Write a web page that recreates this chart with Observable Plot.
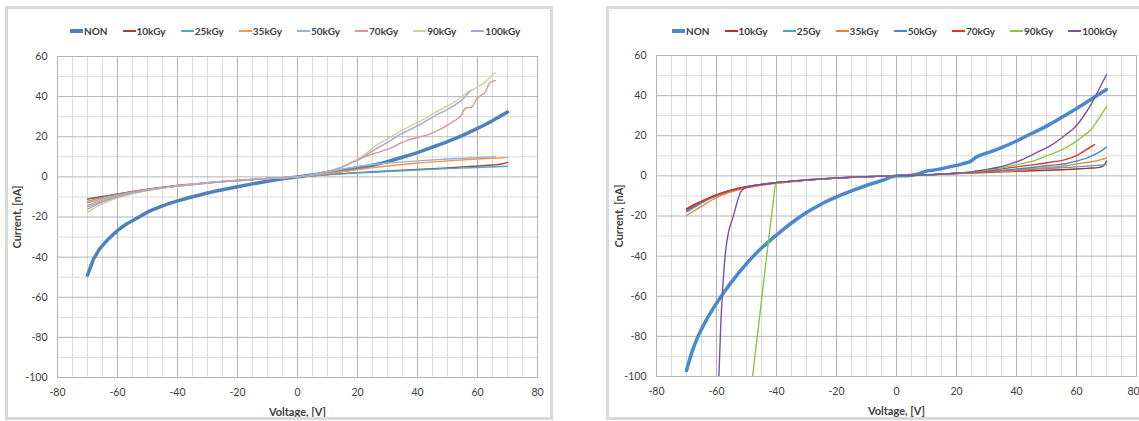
<!DOCTYPE html>
<html><head><meta charset="utf-8">
<script src="https://cdn.jsdelivr.net/npm/d3@7"></script>
<script src="https://cdn.jsdelivr.net/npm/@observablehq/plot@0.6"></script>
<style>
html,body{margin:0;padding:0;background:#fff;}
#wrap{position:relative;width:1139px;height:421px;overflow:hidden;font-family:Lato,"Open Sans",sans-serif;}
.box{position:absolute;border:3px solid #dadada;box-sizing:border-box;pointer-events:none;}
.chart{position:absolute;top:0;}
.legend{position:absolute;display:flex;gap:15px;align-items:center;height:14px;font-weight:bold;font-size:10px;color:#404040;white-space:nowrap;}
.item{display:flex;align-items:center;}
.sw{display:inline-block;width:13px;margin-right:1px;}
</style></head><body><div id="wrap"></div>
<script>
// ---------- axis ticks ----------
const xMajor = [-80, -60, -40, -20, 0, 20, 40, 60, 80];
const xMinor = [-75, -70, -65, -55, -50, -45, -35, -30, -25, -15, -10, -5, 5, 10, 15, 25, 30, 35, 45, 50, 55, 65, 70, 75];
const yMajor = [-100, -80, -60, -40, -20, 0, 20, 40, 60];
const yMinor = [-90, -70, -50, -30, -10, 10, 30, 50];
const xDomain = [-80, 80];
const yDomain = [-100, 60];
const xTitle = "Voltage, [V]";
const yTitle = "Current, [nA]";

// ---------- left chart ----------
const leftNames = ["NON", "10kGy", "25kGy", "35kGy", "50kGy", "70kGy", "90kGy", "100kGy"];
const leftColors = ["#4F81BD", "#A93F3C", "#4BACC6", "#F79646", "#95B3D7", "#D99694", "#C3D69B", "#B3A2C7"];
const L_NON = [[-70,-49],[-69,-45],[-68,-41],[-67,-38.5],[-66,-36],[-65,-34.2],[-63,-31],[-60,-26.8],[-57,-23.5],[-54,-21],[-50,-17.6],[-45,-14.5],[-40,-12],[-35,-9.9],[-30,-8],[-25,-6.4],[-20,-4.9],[-15,-3.5],[-10,-2.2],[-5,-1],[0,0],[5,1],[10,2.2],[15,3.2],[20,4.3],[25,5.8],[30,7.6],[35,9.8],[40,12.1],[45,14.8],[50,17.6],[55,20.7],[60,24.2],[65,28],[70,32.3]];
const L_10 = [[-70,-11],[-65,-9.8],[-60,-8.5],[-55,-7.3],[-50,-6.2],[-45,-5.2],[-40,-4.3],[-35,-3.6],[-30,-2.9],[-25,-2.3],[-20,-1.8],[-15,-1.3],[-10,-0.8],[-5,-0.4],[0,0],[5,0.6],[10,1.1],[15,1.6],[20,2.1],[30,2.9],[40,3.7],[50,4.5],[60,5.4],[65,5.9],[68,6.4],[70,7.2]];
const L_25 = [[-70,-12.2],[-65,-10.2],[-60,-8.7],[-55,-7.4],[-50,-6.3],[-45,-5.3],[-40,-4.4],[-35,-3.6],[-30,-2.9],[-25,-2.3],[-20,-1.8],[-15,-1.3],[-10,-0.8],[-5,-0.4],[0,0],[5,0.5],[10,1],[15,1.5],[20,1.9],[30,2.7],[40,3.4],[50,4.1],[60,4.7],[70,5.3]];
const L_35 = [[-70,-13],[-65,-10.9],[-60,-9.1],[-55,-7.6],[-50,-6.4],[-45,-5.4],[-40,-4.5],[-35,-3.7],[-30,-3],[-25,-2.4],[-20,-1.8],[-15,-1.3],[-10,-0.8],[-5,-0.4],[0,0],[5,0.8],[10,1.7],[15,2.7],[20,3.6],[25,4.6],[30,5.4],[40,6.9],[50,8],[60,8.9],[70,9.6]];
const L_50 = [[-70,-14.2],[-65,-11.6],[-60,-9.5],[-55,-7.9],[-50,-6.6],[-45,-5.5],[-40,-4.6],[-35,-3.8],[-30,-3.1],[-25,-2.4],[-20,-1.9],[-15,-1.3],[-10,-0.8],[-5,-0.4],[0,0],[5,1],[10,2.3],[15,3.9],[20,5.2],[25,6.2],[30,6.9],[40,8],[50,8.9],[60,9.6],[66,10]];
const L_70 = [[-70,-15],[-65,-12.2],[-60,-9.9],[-55,-8.1],[-50,-6.7],[-45,-5.6],[-40,-4.6],[-35,-3.8],[-30,-3.1],[-25,-2.4],[-20,-1.9],[-15,-1.3],[-10,-0.8],[-5,-0.4],[0,0],[5,1],[10,2.6],[15,5],[19,8],[23,10.4],[26,11.8],[29,13.2],[32,15],[34.5,17],[37,18.3],[40,19.6],[42,20.4],[44,21.3],[46,22.6],[48,24],[50,25.8],[51.5,27.3],[53,28.6],[54.5,30.5],[56,34.2],[58,34.8],[60,39.3],[61.5,41],[62.5,42],[64,46.8],[65,47.6],[66,48.1]];
const L_90 = [[-70,-17.8],[-68,-15.8],[-65,-13.5],[-60,-10.6],[-55,-8.4],[-50,-6.8],[-45,-5.6],[-40,-4.6],[-35,-3.8],[-30,-3.1],[-25,-2.4],[-20,-1.9],[-15,-1.3],[-10,-0.8],[-5,-0.4],[0,0],[5,1],[10,2.8],[14,4.3],[17,6.5],[21,9.8],[24,13],[26,15.5],[28.5,17.8],[31,19.8],[34,22.6],[37,24.8],[40,27],[43,29.5],[46.5,32.6],[49,34.6],[51,36.2],[53,38],[55,40.3],[57.5,42.7],[60,44.8],[62,46.7],[64,49.3],[65,51],[66,51.6]];
const L_100 = [[-70,-16.2],[-68,-14.6],[-65,-12.6],[-60,-10],[-55,-8.1],[-50,-6.7],[-45,-5.5],[-40,-4.6],[-35,-3.8],[-30,-3.1],[-25,-2.4],[-20,-1.9],[-15,-1.3],[-10,-0.8],[-5,-0.4],[0,0],[5,1],[10,2.7],[15,5],[18,7],[21,9],[24,12],[27,14.7],[30,17.2],[34,21],[37,23.2],[40,25.4],[43,28],[46.5,31],[49,32.8],[51,34.5],[53,36.4],[55,38.6],[57.7,43.1]];

// ---------- right chart ----------
const rightNames = ["NON", "10kGy", "25Gy", "35kGy", "50kGy", "70kGy", "90kGy", "100kGy"];
const rightColors = ["#4A89CC", "#B02E2B", "#3AA8C2", "#F0822F", "#3F8AD4", "#E0342C", "#8CC63F", "#7B52A8"];
const R_NON = [[-70,-97],[-68,-87],[-66,-79.5],[-64,-73.5],[-62,-68.3],[-60,-63.5],[-57,-57],[-54,-51],[-51,-45.5],[-48,-40.5],[-45,-36],[-42,-32],[-40,-29.5],[-35,-23.5],[-30,-18.3],[-25,-14],[-20,-10.5],[-15,-7.5],[-10,-4.8],[-5,-2.4],[0,0],[3,0.1],[6,0.6],[8,1.3],[9.5,2.2],[12,2.8],[15,3.6],[18,4.6],[22,6],[25,7.5],[26.5,9.3],[28,10.4],[30,11.3],[35,14.1],[40,17.4],[45,21.1],[50,24.8],[55,29.1],[60,33.6],[65,38.3],[70,43]];
const R_10 = [[-70,-16.4],[-67,-14],[-65,-12.6],[-62,-10.6],[-60,-9.4],[-57,-7.9],[-55,-7],[-50,-5.4],[-45,-4.3],[-40,-3.4],[-35,-2.7],[-30,-2.1],[-25,-1.6],[-20,-1.1],[-15,-0.7],[-10,-0.4],[-5,-0.2],[0,0],[10,0.5],[20,1.1],[30,1.7],[40,2.3],[50,2.8],[60,3.4],[65,3.9],[67,4.1],[68.7,4.7],[70,7.3]];
const R_25 = [[-70,-18],[-67,-15.3],[-65,-13.6],[-62,-11.2],[-60,-9.9],[-57,-8.2],[-55,-7.3],[-50,-5.6],[-45,-4.4],[-40,-3.5],[-35,-2.8],[-30,-2.1],[-25,-1.6],[-20,-1.1],[-15,-0.7],[-10,-0.4],[-5,-0.2],[0,0],[10,0.5],[20,1.3],[30,2.1],[40,2.9],[50,3.7],[60,4.5],[70,5.6]];
const R_35 = [[-70,-19.8],[-67,-17],[-65,-15.2],[-62,-12.4],[-60,-10.8],[-57,-8.9],[-55,-7.9],[-50,-6],[-45,-4.7],[-40,-3.7],[-35,-2.9],[-30,-2.2],[-25,-1.6],[-20,-1.1],[-15,-0.7],[-10,-0.4],[-5,-0.2],[0,0],[10,0.5],[20,1.2],[30,2],[40,2.7],[46,3.5],[51,4.3],[57,5.2],[62.5,6.5],[67,7.6],[70,9]];
const R_50 = [[-70,-17.4],[-67,-14.8],[-65,-13.2],[-62,-11],[-60,-9.7],[-57,-8.1],[-55,-7.2],[-50,-5.5],[-45,-4.3],[-40,-3.4],[-35,-2.7],[-30,-2.1],[-25,-1.6],[-20,-1.1],[-15,-0.7],[-10,-0.4],[-5,-0.2],[0,0],[10,0.5],[20,1.3],[30,2.1],[35,2.7],[40,3.4],[46,4.3],[51,5.2],[57,6.3],[61.4,8],[63.6,9],[67,11.3],[70,14.3]];
const R_70 = [[-70,-16.8],[-67,-14.3],[-65,-12.8],[-62,-10.8],[-60,-9.5],[-57,-8],[-55,-7.1],[-50,-5.4],[-45,-4.3],[-40,-3.4],[-35,-2.7],[-30,-2.1],[-25,-1.6],[-20,-1.1],[-15,-0.7],[-10,-0.4],[-5,-0.2],[0,0],[10,0.6],[20,1.3],[30,2.4],[35,3.5],[40,4.5],[46,5.6],[51.4,6.8],[56,8],[60,10.1],[62.5,12.3],[66,15.6]];
const R_90 = [[-48,-100],[-46,-75],[-44,-49],[-42.5,-30],[-41,-12],[-40.3,-4],[-38,-3.1],[-35,-2.6],[-30,-1.9],[-25,-1.4],[-20,-1],[-15,-0.7],[-10,-0.4],[-5,-0.2],[0,0],[10,0.5],[20,1.3],[25,1.9],[29,2.7],[35,3.9],[40,5.6],[46,7.6],[50,10],[55,12.9],[59,16.3],[62.5,20.1],[65,23.4],[67,27.6],[70,34.5]];
const R_100 = [[-59.2,-100],[-58.6,-75],[-58,-58],[-57,-38],[-56,-28],[-55,-23],[-54.2,-19],[-53,-12.5],[-52,-8.2],[-50.5,-6],[-48,-5],[-45,-4.2],[-40,-3.3],[-35,-2.6],[-30,-2],[-25,-1.4],[-20,-1],[-15,-0.7],[-10,-0.4],[-5,-0.2],[0,0],[10,0.5],[20,1.3],[25,2],[29,3],[34,4.3],[38,6],[42.5,8.5],[47,11.8],[51.4,15.1],[56,20],[60,25.1],[62.5,30.1],[65,36],[67,41.7],[70,50.5]];

const leftSeries = [L_NON, L_10, L_25, L_35, L_50, L_70, L_90, L_100];
const rightSeries = [R_NON, R_10, R_25, R_35, R_50, R_70, R_90, R_100];

const wrap = document.getElementById("wrap");
const fmt = d => String(d);

function panel(names, series, colors, dims) {
  const data = names.flatMap((n, k) => series[k].map(([v, c]) => ({name: n, v, c})));
  const last = xMajor[xMajor.length - 1];
  const xAxisMarks = dims.edgeTick
    ? [Plot.axisX(xMajor.slice(0, -1), {tickSize: 0, tickPadding: 11, tickFormat: fmt, label: null}),
       Plot.axisX([last], {tickSize: 0, tickPadding: 11, tickFormat: fmt, label: null, dx: -3})]
    : [Plot.axisX(xMajor, {tickSize: 0, tickPadding: 11, tickFormat: fmt, label: null})];
  const svg = Plot.plot({
    width: dims.width, height: 421,
    marginLeft: dims.ml, marginRight: dims.mr, marginTop: dims.mt, marginBottom: dims.mb,
    style: {fontFamily: "Lato, 'Open Sans', sans-serif", fontSize: "10.5px", color: "#404040", background: "transparent", overflow: "visible"},
    x: {domain: xDomain},
    y: {domain: yDomain},
    color: {domain: names, range: colors},
    marks: [
      Plot.gridX(xMinor, {stroke: "#dadada", strokeOpacity: 1}),
      Plot.gridY(yMinor, {stroke: "#dadada", strokeOpacity: 1}),
      Plot.gridX(xMajor, {stroke: "#b4b4b4", strokeOpacity: 1}),
      Plot.gridY(yMajor, {stroke: "#b4b4b4", strokeOpacity: 1}),
      Plot.frame({stroke: "#b4b4b4"}),
      ...xAxisMarks,
      Plot.axisY(yMajor, {tickSize: 0, tickPadding: 10, tickFormat: fmt, label: null}),
      Plot.axisX({ticks: [], label: xTitle, labelAnchor: "center", labelArrow: "none", labelOffset: 38, fontWeight: "bold", fontSize: 11}),
      Plot.axisY({ticks: [], label: yTitle, labelAnchor: "center", labelArrow: "none", labelOffset: dims.ylo, fontWeight: "bold", fontSize: 11}),
      Plot.line(data.filter(d => d.name === names[0]), {x: "v", y: "c", stroke: "name", strokeWidth: 3.5, curve: "monotone-x", clip: true}),
      Plot.line(data.filter(d => d.name !== names[0]), {x: "v", y: "c", z: "name", stroke: "name", strokeWidth: 1.4, curve: "monotone-x", clip: true})
    ]
  });
  const holder = document.createElement("div");
  holder.className = "chart";
  holder.style.left = dims.left + "px";
  holder.appendChild(svg);
  wrap.appendChild(holder);

  const box = document.createElement("div");
  box.className = "box";
  Object.assign(box.style, dims.box);
  wrap.appendChild(box);

  const lg = document.createElement("div");
  lg.className = "legend";
  lg.style.left = dims.legLeft + "px";
  lg.style.top = "24px";
  names.forEach((n, k) => {
    const it = document.createElement("span");
    it.className = "item";
    const sw = document.createElement("span");
    sw.className = "sw";
    sw.style.background = colors[k];
    sw.style.height = k === 0 ? "4px" : "2px";
    const tx = document.createElement("span");
    tx.textContent = n;
    it.appendChild(sw); it.appendChild(tx);
    lg.appendChild(it);
  });
  wrap.appendChild(lg);
}

panel(leftNames, leftSeries, leftColors, {
  left: 0, width: 553, ml: 57, mr: 16, mt: 56, mb: 44, ylo: 44, legLeft: 70, edgeTick: false,
  box: {left: "5px", top: "6px", width: "548px", height: "414px"}
});
panel(rightNames, rightSeries, rightColors, {
  left: 600, width: 539, ml: 56, mr: 3, mt: 55, mb: 45, ylo: 41, legLeft: 672, edgeTick: true,
  box: {left: "606px", top: "6px", width: "560px", height: "414px"}
});
</script></body></html>
